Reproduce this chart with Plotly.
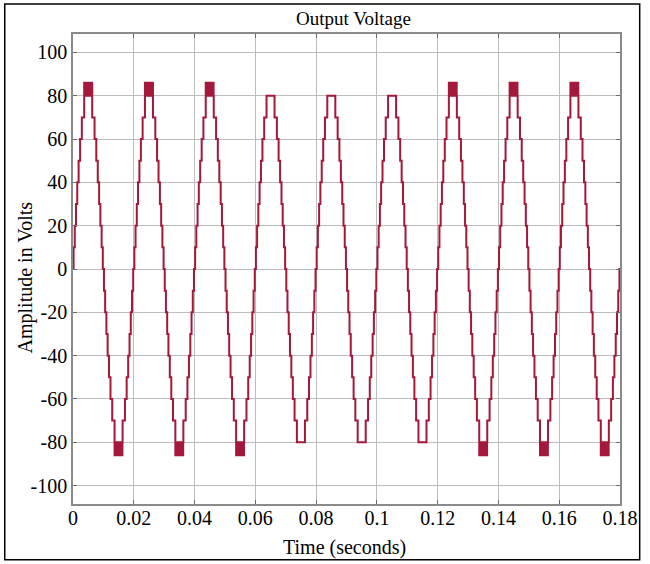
import plotly.graph_objects as go

# Multilevel inverter output: 50 Hz staircase, nine cycles
PERIOD = 0.02
N_CYCLES = 9
STEP_LEVELS = [10, 20, 30, 40, 50, 60, 70, 80]                  # volts
STEP_TIMES_MS = [0.19, 0.58, 0.99, 1.40, 1.85, 2.34, 2.91, 3.68]  # switching instants in a quarter cycle
CREST_LEVELS = [86, 86, 86, 80, 80, 80, 86, 86, 86]             # top level reached by each cycle
CHATTER_MS = 0.06                                               # switching interval at the crest

X_TICKS = [0, 0.02, 0.04, 0.06, 0.08, 0.1, 0.12, 0.14, 0.16, 0.18]
X_TICK_TEXT = ["0", "0.02", "0.04", "0.06", "0.08", "0.1", "0.12", "0.14", "0.16", "0.18"]
Y_TICKS = list(range(-100, 101, 20))
Y_TICK_TEXT = [str(y) for y in Y_TICKS]

half_ms = PERIOD * 1000 / 2
t, v = [], []
for i in range(N_CYCLES):
    for sign, offset in ((1, 0.0), (-1, half_ms)):
        base = i * PERIOD * 1000 + offset
        t.append(base / 1000); v.append(0)
        for st, lvl in zip(STEP_TIMES_MS, STEP_LEVELS):
            t.append((base + st) / 1000); v.append(sign * lvl)
        crest_start = base + STEP_TIMES_MS[-1]
        crest_end = base + half_ms - STEP_TIMES_MS[-1]
        top = CREST_LEVELS[i]
        if top > STEP_LEVELS[-1]:
            ts = crest_start
            hi = True
            while ts < crest_end:
                t.append(ts / 1000); v.append(sign * (top if hi else STEP_LEVELS[-1]))
                hi = not hi
                ts += CHATTER_MS
            t.append(crest_end / 1000); v.append(sign * STEP_LEVELS[-1])
        lower = [0] + STEP_LEVELS[:-1]
        for st, lvl in zip(reversed(STEP_TIMES_MS), reversed(lower)):
            t.append((base + half_ms - st) / 1000); v.append(sign * lvl)
t.append(N_CYCLES * PERIOD); v.append(0)

fig = go.Figure()
fig.add_trace(go.Scatter(
    x=t, y=v, mode="lines",
    line=dict(color="#A3183B", width=2, shape="hv"),
    showlegend=False, hoverinfo="skip",
))

FAMILY = "Liberation Serif, Times New Roman, serif"
tick_font = dict(family=FAMILY, size=20, color="black")
label_font = dict(family=FAMILY, size=20, color="black")
axis_common = dict(
    showgrid=True, gridcolor="#bdbdbd", gridwidth=1,
    showline=True, linecolor="#8a8a8a", linewidth=1.5, mirror="ticks",
    ticks="inside", ticklen=4, tickcolor="#6a6a6a",
    zeroline=False, tickfont=tick_font,
)

fig.update_layout(
    width=650, height=564,
    margin=dict(l=73, r=24, t=34, b=60),
    paper_bgcolor="white", plot_bgcolor="white",
    font=tick_font,
    xaxis=dict(range=[0, 0.18], tickvals=X_TICKS, ticktext=X_TICK_TEXT,
               ticklabelstandoff=-5, **axis_common),
    yaxis=dict(range=[-108.5, 108.5], tickvals=Y_TICKS, ticktext=Y_TICK_TEXT, **axis_common),
    annotations=[
        dict(text="Output Voltage", xref="paper", yref="paper", x=0.512, y=1.0335,
             xanchor="center", yanchor="middle", showarrow=False,
             font=dict(family=FAMILY, size=19, color="black")),
        dict(text="Time (seconds)", xref="paper", yref="paper", x=0.497, y=-0.0936,
             xanchor="center", yanchor="middle", showarrow=False, font=label_font),
        dict(text="Amplitude in Volts", xref="paper", yref="paper", x=-0.0868, y=0.481,
             xanchor="center", yanchor="middle", textangle=-90, showarrow=False, font=label_font),
    ],
    shapes=[dict(type="rect", xref="paper", yref="paper",
                 x0=-0.1248, x1=1.036, y0=-0.1186, y1=1.0636,
                 line=dict(color="black", width=1.5), fillcolor="rgba(0,0,0,0)", layer="above")],
)

fig.write_html("out.html")
